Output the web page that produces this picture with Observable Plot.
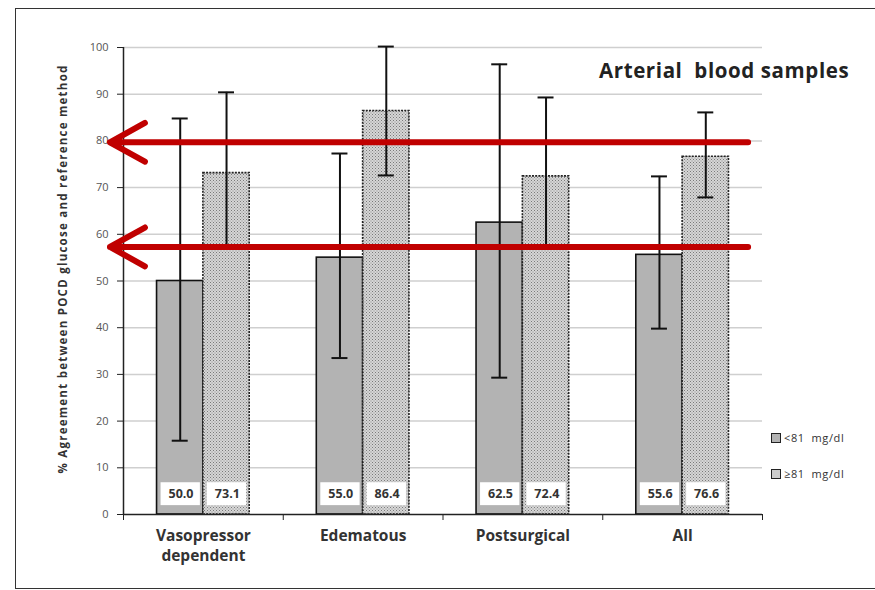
<!DOCTYPE html>
<html>
<head>
<meta charset="utf-8">
<script src="https://cdn.jsdelivr.net/npm/d3@7"></script>
<script src="https://cdn.jsdelivr.net/npm/@observablehq/plot@0.6"></script>
<style>
  html, body { margin: 0; padding: 0; background: #fff; }
  #wrap { position: relative; width: 875px; height: 590px; overflow: hidden; font-family: "Open Sans", Lato, sans-serif; }
  #frame { position: absolute; left: 15px; top: 8px; width: 900px; height: 581px; border: 1.5px solid #333; box-sizing: border-box; }
  #title { position: absolute; left: 599px; top: 56px; font: bold 20.5px "Open Sans", sans-serif; color: #222; white-space: pre; letter-spacing: 0.6px; }
  #ylabel { position: absolute; left: 62px; top: 269px; transform: translate(-50%, -50%) rotate(-90deg); font: bold 11.5px "Open Sans", sans-serif; color: #333; white-space: nowrap; letter-spacing: 1.25px; }
  .leg { position: absolute; left: 771px; font: 11px "Open Sans", sans-serif; color: #333; display: flex; align-items: center; white-space: pre; letter-spacing: 0.6px; }
  .sw { width: 8px; height: 8px; border: 1.5px solid #222; margin-right: 3px; }
  #chart { position: absolute; left: 0; top: 0; }
</style>
</head>
<body>
<svg width="0" height="0" style="position:absolute">
  <defs>
    <pattern id="hatch" width="3" height="3" patternUnits="userSpaceOnUse">
      <rect width="3" height="3" fill="#d6d6d6"></rect>
      <rect x="0" y="0" width="1" height="1" fill="#7a7a7a"></rect>
      <rect x="1.5" y="1.5" width="1" height="1" fill="#8a8a8a"></rect>
    </pattern>
  </defs>
</svg>
<div id="wrap">
  <div id="frame"></div>
  <div id="chart"></div>
  <div id="title"></div>
  <div id="ylabel"></div>
  <div class="leg" id="leg0" style="top:430px"><div class="sw" style="background:#b3b3b3"></div><span></span></div>
  <div class="leg" id="leg1" style="top:466px"><div class="sw" style="background:#cdcdcd"></div><span></span></div>
</div>
<script>
// ---- data ----
const categories = ["Vasopressor\ndependent", "Edematous", "Postsurgical", "All"];
const seriesNames = ["<81  mg/dl", "≥81  mg/dl"];
const lowValues = [50.0, 55.0, 62.5, 55.6];
const highValues = [73.1, 86.4, 72.4, 76.6];
const lowErrLo = [15.8, 33.5, 29.3, 39.8];
const lowErrHi = [84.8, 77.3, 96.4, 72.4];
const highErrLo = [57.5, 72.6, 57.5, 67.9];
const highErrHi = [90.4, 100.2, 89.3, 86.1];
const yTicks = [0, 10, 20, 30, 40, 50, 60, 70, 80, 90, 100];
const arrowLevels = [79.7, 57.3];
const titleText = "Arterial  blood samples";
const yLabelText = "% Agreement between POCD glucose and reference method";

document.getElementById("title").textContent = titleText;
document.getElementById("ylabel").textContent = yLabelText;
document.querySelector("#leg0 span").textContent = seriesNames[0];
document.querySelector("#leg1 span").textContent = seriesNames[1];

const W = 0.29;   // bar width in category units
const C = 0.05;   // cap half-width
const low = categories.map((c, i) => ({i, v: lowValues[i], lo: lowErrLo[i], hi: lowErrHi[i], x1: i - W, x2: i}));
const high = categories.map((c, i) => ({i, v: highValues[i], lo: highErrLo[i], hi: highErrHi[i], x1: i, x2: i + W}));
const all = low.concat(high);
const mid = d => (d.x1 + d.x2) / 2;
const catIdx = categories.map((c, i) => i);
const bounds = categories.map((c, i) => i - 0.5).concat([categories.length - 0.5]);

const plot = Plot.plot({
  width: 875,
  height: 590,
  marginLeft: 123,
  marginRight: 113,
  marginTop: 47,
  marginBottom: 76,
  style: {fontFamily: "'Open Sans', sans-serif", background: "transparent"},
  x: {domain: [-0.5, categories.length - 0.5], axis: null},
  y: {domain: [0, 100], axis: null},
  marks: [
    Plot.gridY(yTicks.filter(t => t > 0), {stroke: "#cfcfcf", strokeOpacity: 1, strokeWidth: 1.5}),
    Plot.axisY(yTicks, {tickSize: 6, tickPadding: 9, fontSize: 11, fill: "#555", stroke: "#222", label: null}),
    Plot.axisX(bounds, {tickSize: 6, tickFormat: () => "", stroke: "#222", label: null}),
    Plot.axisX(catIdx, {tickSize: 0, tickPadding: 12, tickFormat: i => categories[i], fontSize: 15.5, fontWeight: "bold", fill: "#333", lineHeight: 1.32, label: null}),
    Plot.rect(low, {x1: "x1", x2: "x2", y1: 0, y2: "v", fill: "#b3b3b3", stroke: "#111", strokeWidth: 1.6}),
    Plot.rect(high, {x1: "x1", x2: "x2", y1: 0, y2: "v", fill: "url(#hatch)", stroke: "#222", strokeWidth: 1.6, strokeDasharray: "2,1.2"}),
    Plot.ruleX(all, {x: mid, y1: "lo", y2: "hi", stroke: "#111", strokeWidth: 2}),
    Plot.ruleY(all, {x1: d => mid(d) - C, x2: d => mid(d) + C, y: "hi", stroke: "#111", strokeWidth: 2}),
    Plot.ruleY(all, {x1: d => mid(d) - C, x2: d => mid(d) + C, y: "lo", stroke: "#111", strokeWidth: 2}),
    Plot.rect(all, {x1: "x1", x2: "x2", y1: 1.9, y2: 6.8, fill: "white", insetLeft: 4, insetRight: 3}),
    Plot.text(all, {x: d => mid(d) + 0.005, y: 4.3, text: d => d.v.toFixed(1), fontSize: 12.5, fontWeight: "bold", fill: "#333", style: "letter-spacing:0.4px"}),
    Plot.ruleY([0], {stroke: "#222", strokeWidth: 1.5}),
    Plot.ruleX([-0.5], {y1: 0, y2: 100, stroke: "#222", strokeWidth: 1.5}),
    Plot.arrow(arrowLevels, {x1: 3.41, x2: -0.585, y1: d => d, y2: d => d, stroke: "#c00000", strokeWidth: 6, headLength: 10, headAngle: 58, strokeLinejoin: "miter"})
  ]
});
document.getElementById("chart").appendChild(plot);
</script>
</body>
</html>
